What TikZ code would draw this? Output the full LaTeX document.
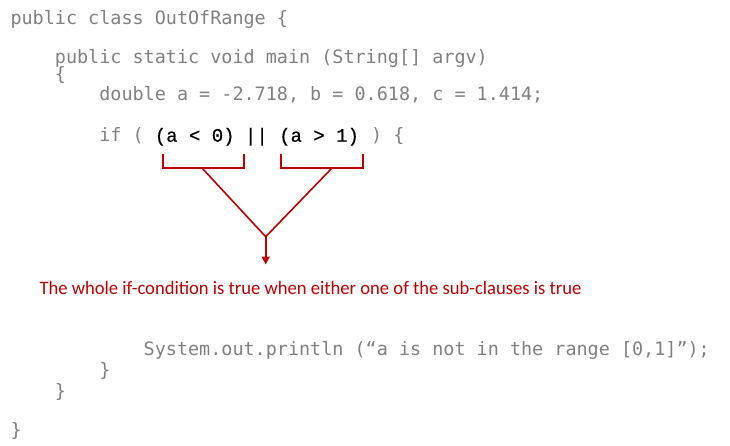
\documentclass[tikz,border=0pt]{standalone}
\usepackage{fontspec}
\usepackage{graphicx}
\usetikzlibrary{arrows.meta}
\newfontfamily\codefont{DejaVu Sans Mono}
\newfontfamily\courfont[FakeBold=0.6]{Liberation Mono}
\newfontfamily\notefont{Carlito}
\definecolor{codegray}{RGB}{128,128,128}
\definecolor{notered}{RGB}{192,0,0}
\begin{document}
\begin{tikzpicture}[x=1pt,y=-1pt,
  code/.style={anchor=base west, inner sep=0pt, outer sep=0pt, text=codegray,
    font=\codefont\fontsize{18.44pt}{20pt}\selectfont},
  cond/.style={anchor=base west, inner sep=0pt, outer sep=0pt, text=black,
    font=\courfont\fontsize{19pt}{20pt}\selectfont},
  bracket/.style={draw=notered, line width=1.6pt},
  note/.style={anchor=base west, inner sep=0pt, outer sep=0pt, text=notered,
    font=\notefont\fontsize{19pt}{22pt}\selectfont}]
\useasboundingbox (0,0) rectangle (730,445);
% code lines
\node[code] (l1) at (10.5,24.5) {public class OutOfRange \{};
\node[code] (l2) at (54.9,63) {public static void main (String[] argv)};
\node[code] (l3) at (54.9,80) {\{};
\node[code] (l4) at (99.3,100) {double a = -2.718, b = 0.618, c = 1.414;};
\node[code] (ifa) at (99.3,141.7) {if (};
\node[cond] (c1) at (154.8,141.7) {(a < 0)};
\node[cond] (orop) at (245.0,141.7) {||};
\node[cond] (c2) at (279.2,141.7) {(a > 1)};
\node[code] (ifb) at (371.1,141.7) {) \{};
\node[code] (l6) at (143.7,355) {System.out.println (“a is not in the range [0,1]”);};
\node[code] (l7) at (99.3,376) {\}};
\node[code] (l8) at (54.9,397) {\}};
\node[code] (l9) at (10.5,436) {\}};
% note
\node[note] (note) at (39.5,294.5) {\resizebox{542pt}{\height}{The whole if-condition is true when either one of the sub-clauses is true}};
% brackets
\coordinate (b1a) at (162.7,154);
\coordinate (b1b) at (162.7,167.7);
\coordinate (b1c) at (244,167.7);
\coordinate (b1d) at (244,154);
\coordinate (b2a) at (281,154);
\coordinate (b2b) at (281,167.7);
\coordinate (b2c) at (362.7,167.7);
\coordinate (b2d) at (362.7,154);
\coordinate (m1) at (201.7,167.7);
\coordinate (m2) at (332.3,167.7);
\coordinate (apex) at (265.7,236.7);
\coordinate (tip) at (265.7,264.5);
\draw[bracket] (b1a) -- (b1b) -- (b1c) -- (b1d);
\draw[bracket] (b2a) -- (b2b) -- (b2c) -- (b2d);
\draw[bracket, line join=miter] (m1) -- (apex) -- (m2);
\draw[bracket, -{Triangle[width=8pt,length=8pt]}] (apex) -- (tip);
\end{tikzpicture}
\end{document}
